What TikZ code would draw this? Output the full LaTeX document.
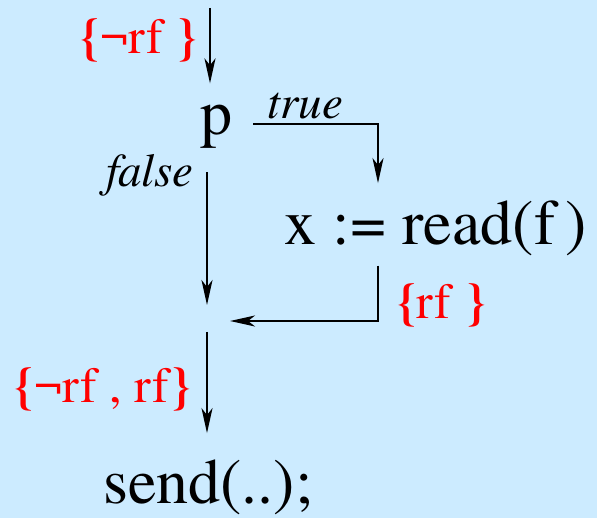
\documentclass[tikz,border=0pt]{standalone}
\usepackage{fontspec}
\setmainfont{texgyretermes}[Extension=.otf, UprightFont=*-regular, ItalicFont=*-italic, BoldFont=*-bold]
\usetikzlibrary{positioning, calc, arrows.meta}
\definecolor{Sky}{HTML}{CCEBFF}
\definecolor{Ink}{HTML}{000000}
\definecolor{Fact}{HTML}{FF0000}
\newcommand{\lb}{\textbf{\{}}
\newcommand{\rb}{\textbf{\}}}
\tikzset{
    stmt/.style={inner sep=0pt, anchor=base, text=Ink, font=\fontsize{64}{66}\selectfont},
    branch/.style={inner sep=0pt, anchor=base, text=Ink, font=\fontsize{47}{49}\selectfont\itshape},
    fact/.style={inner sep=0pt, anchor=base, text=Fact, font=\fontsize{50}{52}\selectfont},
    flow/.style={-{Stealth[length=25pt, width=11pt, inset=7pt]}, line width=2.2pt, color=Ink},
}
\begin{document}
\begin{tikzpicture}[x=1pt, y=1pt]
    % Sfondo
    \fill[Sky] (0,0) rectangle (597,518);
    \useasboundingbox (0,0) rectangle (597,518);

    % Istruzioni
    \node[stmt] (p) at (216,383) {p};
    \node[stmt] (read) at (436,273) {x := read(f\,)};
    \node[stmt] (send) at (208,14) {send(..);};
    \coordinate (entry) at (210,510);
    \coordinate (join) at (207,197);

    % Fatti
    \node[fact] (pre) at (139,464) {\lb¬rf \rb};
    \node[fact, anchor=base west] (post) at (397,199) {\lb rf \rb};
    \node[fact] (both) at (103,115) {\lb¬rf , rf\rb};

    % Archi
    \draw[flow, shorten >=22pt] (entry) -- (entry |- p.north);
    \draw[flow, shorten <=21pt, shorten >=18pt] ($(p.east)+(0,3)$) -| ([xshift=-58pt]read.north)
        node[branch, pos=0.25, above=4pt] (yes) {true};
    \draw[flow, shorten <=23pt, shorten >=16pt] (join |- p.south) -- (join);
    \node[branch, anchor=base east] (no) at (194,331) {false};
    \draw[flow, shorten <=9pt, shorten >=23pt] ([xshift=-58pt]read.south) |- (join);
    \draw[flow, shorten <=11pt, shorten >=27pt] (join) -- (join |- send.north);
\end{tikzpicture}
\end{document}
